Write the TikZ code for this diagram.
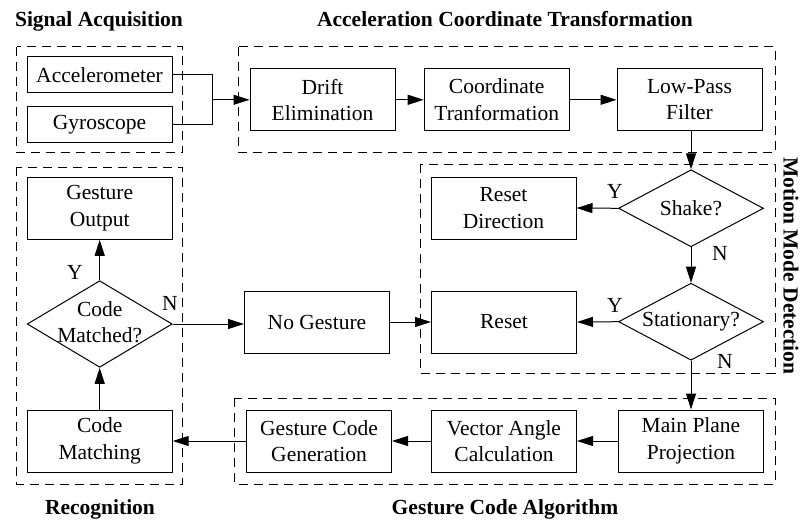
\documentclass[tikz,border=0pt]{standalone}
\usepackage{fontspec}
\setmainfont{Liberation Serif}
\usetikzlibrary{arrows.meta, shapes.geometric}
\newcommand{\zerowidthtext}[1]{\makebox[0pt]{\begin{tabular}{@{}c@{}}#1\end{tabular}}}

\begin{document}
\begin{tikzpicture}[x=1pt, y=-1pt, line width=1pt,
    every node/.style={font=\fontsize{21.5pt}{26.5pt}\selectfont, inner sep=0pt},
    blk/.style={draw, align=center, minimum width=145pt, minimum height=62pt},
    lowblk/.style={blk, minimum height=36pt},
    dec/.style={draw, diamond, aspect=1.9, minimum width=145pt, minimum height=77pt},
    frame/.style={dash pattern=on 9pt off 6pt},
    ttl/.style={font=\fontsize{21.5pt}{26.5pt}\selectfont\bfseries, anchor=base},
    arr/.style={-{Triangle[length=16pt,width=10pt]}}]
    \useasboundingbox (0,0) rectangle (801,522);

    % group frames
    \draw[frame] (16.7,46.7) rectangle (182.7,152.7);
    \draw[frame] (238.7,46.7) rectangle (775,152.7);
    \draw[frame] (16.7,167.3) rectangle (182.7,484);
    \draw[frame] (420.7,164) rectangle (775,373.3);
    \draw[frame] (234.3,398.3) rectangle (775,484);

    \node[ttl] (tsa) at (99,26) {Signal Acquisition};
    \node[ttl] (tact) at (505,26) {Acceleration Coordinate Transformation};
    \node[ttl] (trec) at (100,514) {Recognition};
    \node[ttl] (tgca) at (505,514) {Gesture Code Algorithm};
    \node[font=\fontsize{21.5pt}{26.5pt}\selectfont\bfseries, rotate=-90] (tmmd) at (791,266) {Motion Mode Detection};

    % blocks
    \node[lowblk] (acc) at (99.5,74.7) {Accelerometer};
    \node[lowblk] (gyro) at (99.5,124.7) {Gyroscope};
    \node[blk] (drift) at (322.5,99.8) {Drift\\Elimination};
    \node[blk] (coord) at (496.7,99.8) {Coordinate\\Tranformation};
    \node[blk] (lpf) at (689.5,99.8) {Low-Pass\\Filter};
    \node[dec] (shake) at (691,208.3) {Shake?};
    \node[blk] (resdir) at (503.5,208) {Reset\\Direction};
    \node[dec] (stat) at (691,321.7) {Stationary?};
    \node[blk] (reset) at (504,322) {Reset};
    \node[blk] (nogest) at (317,322) {No Gesture};
    \node[blk] (mpp) at (691,441) {Main Plane\\Projection};
    \node[blk] (vac) at (504,441) {Vector Angle\\Calculation};
    \node[blk] (gcg) at (319,441) {Gesture Code\\Generation};
    \node[blk] (cmat) at (99.7,441) {Code\\Matching};
    \node[dec, minimum height=86.6pt] (cmd) at (99.7,324) {\zerowidthtext{Code\\Matched?}};
    \node[blk] (gout) at (99.7,208.3) {Gesture\\Output};

    % connectors
    \coordinate (jn) at (212,99.8);
    \draw (acc.east) -| (jn);
    \draw (gyro.east) -| (jn);
    \draw[arr] (jn) -- (drift.west);
    \draw[arr] (drift) -- (coord);
    \draw[arr] (coord) -- (lpf);
    \draw[arr] (shake.north |- lpf.south) -- (shake.north);
    \draw[arr] (shake.west) -- (resdir.east);
    \draw[arr] (shake.south) -- (stat.north);
    \draw[arr] (stat.west) -- (reset.east);
    \draw[arr] (stat.south) -- (mpp.north);
    \draw[arr] (mpp) -- (vac);
    \draw[arr] (vac) -- (gcg);
    \draw[arr] (gcg) -- (cmat);
    \draw[arr] (cmat.north) -- (cmd.south);
    \draw[arr] (cmd.north) -- (gout.south);
    \draw[arr] (cmd.east) -- (cmd.east -| nogest.west);
    \draw[arr] (nogest) -- (reset);

    \node (ys) at (615,191) {Y};
    \node (ns) at (720,253) {N};
    \node (yst) at (615,305) {Y};
    \node (nst) at (725,361.5) {N};
    \node (yc) at (75,272) {Y};
    \node (nc) at (170,303) {N};
\end{tikzpicture}
\end{document}
